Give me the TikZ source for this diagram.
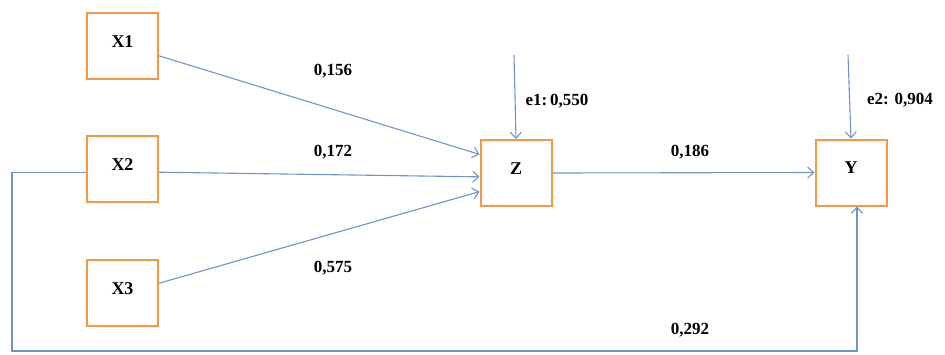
\documentclass[tikz,border=0pt]{standalone}
\usepackage{fontspec}
\setmainfont{Liberation Serif}
\usepackage{xcolor}
\usepackage{tikz}
\usetikzlibrary{arrows.meta}
\definecolor{BoxOrange}{RGB}{247, 150, 70}
\definecolor{PathBlue}{RGB}{110, 148, 200}
\tikzset{
    varbox/.style={rectangle, draw=BoxOrange, line width=2pt, fill=white,
        minimum width=71pt, minimum height=66pt, inner sep=0pt,
        font=\fontsize{18}{20}\selectfont\bfseries},
    coef/.style={font=\fontsize{17}{19}\selectfont\bfseries, inner sep=1pt},
    path/.style={draw=PathBlue, line width=1.1pt, -{Straight Barb[length=6pt, width=11pt]}}
}

\begin{document}
\begin{tikzpicture}[x=1pt, y=-1pt]
    \useasboundingbox (0,0) rectangle (945,354);
    % variables
    \node[varbox] (X1) at (122.5,46) {\raisebox{9pt}{X1}};
    \node[varbox] (X2) at (122.5,169) {\raisebox{9pt}{X2}};
    \node[varbox] (X3) at (122.5,293) {\raisebox{9pt}{X3}};
    \node[varbox] (Z) at (516,173) {\raisebox{9pt}{Z}};
    \node[varbox] (Y) at (851,172.5) {\raisebox{9pt}{Y}};
    % error terms
    \coordinate (e1) at (514,55);
    \coordinate (e2) at (848,55);
    \coordinate (b1) at (12,351);
    \coordinate (b2) at (857,351);
    % paths
    \draw[path] (X1.-15) -- (Z.153);
    \draw[path] (X2.-5) -- (Z.186);
    \draw[path] (X3.15) -- (Z.207);
    \draw[path] (Z.east) -- (Y.west);
    \draw[path] (e1) -- (Z.north);
    \draw[path] (e2) -- (Y.north);
    \draw[path] (X2.185) -| (b1) -- (b2) -- (b2 |- Y.south);
    % coefficients
    \node[coef] (c1) at (333,71) {0,156};
    \node[coef] (c2) at (333,152) {0,172};
    \node[coef] (c3) at (333,268) {0,575};
    \node[coef] (c4) at (690,152) {0,186};
    \node[coef] (c5) at (690,330) {0,292};
    \node[coef] (r1) at (557,101) {e1:\,0,550};
    \node[coef] (r2) at (900,100) {e2: 0,904};
\end{tikzpicture}
\end{document}
